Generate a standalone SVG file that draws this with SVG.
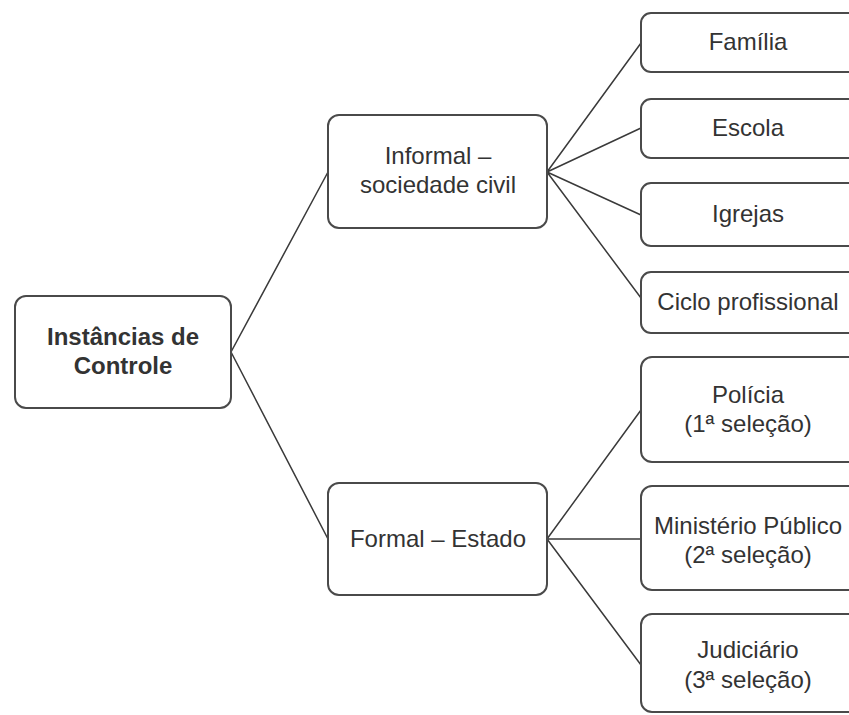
<svg xmlns="http://www.w3.org/2000/svg" width="849" height="715" viewBox="0 0 849 715">
<style>
.box{fill:#fff;stroke:#4a4a4a;stroke-width:2}
.t{font-family:"Liberation Sans",Arial,sans-serif;font-size:24px;fill:#333;text-anchor:middle}
.b{font-weight:bold}
.c{stroke:#3a3a3a;stroke-width:1.5;fill:none}
</style>
<rect width="849" height="715" fill="#fff"/>
<g id="connectors">
<path class="c" d="M231,352 L328,172 M231,352 L328,539"/>
<path class="c" d="M547,172 L641,43 M547,172 L641,128 M547,172 L641,215 M547,172 L641,298"/>
<path class="c" d="M547,539 L641,410 M547,539 L641,539 M547,539 L641,665"/>
</g>
<g id="root"><rect class="box" x="15" y="296" width="216" height="112" rx="11"/>
<text class="t b" x="123" y="345">Instâncias de</text><text class="t b" x="123" y="374">Controle</text></g>
<g id="informal"><rect class="box" x="328" y="115" width="219" height="113" rx="11"/>
<text class="t" x="438" y="164">Informal –</text><text class="t" x="438" y="193">sociedade civil</text></g>
<g id="formal"><rect class="box" x="328" y="483" width="219" height="112" rx="11"/>
<text class="t" x="438" y="547">Formal – Estado</text></g>
<g id="familia"><rect class="box" x="641" y="13" width="230" height="59" rx="10"/>
<text class="t" x="748" y="50">Família</text></g>
<g id="escola"><rect class="box" x="641" y="99" width="230" height="59" rx="10"/>
<text class="t" x="748" y="136">Escola</text></g>
<g id="igrejas"><rect class="box" x="641" y="183" width="230" height="63" rx="10"/>
<text class="t" x="748" y="222">Igrejas</text></g>
<g id="ciclo"><rect class="box" x="641" y="272" width="230" height="61" rx="10"/>
<text class="t" x="748" y="310">Ciclo profissional</text></g>
<g id="policia"><rect class="box" x="641" y="357" width="230" height="105" rx="11"/>
<text class="t" x="748" y="403">Polícia</text><text class="t" x="748" y="432">(1ª seleção)</text></g>
<g id="ministerio"><rect class="box" x="641" y="486" width="230" height="104" rx="11"/>
<text class="t" x="748" y="534">Ministério Público</text><text class="t" x="748" y="563">(2ª seleção)</text></g>
<g id="judiciario"><rect class="box" x="641" y="614" width="230" height="98" rx="11"/>
<text class="t" x="748" y="658">Judiciário</text><text class="t" x="748" y="688">(3ª seleção)</text></g>
</svg>
